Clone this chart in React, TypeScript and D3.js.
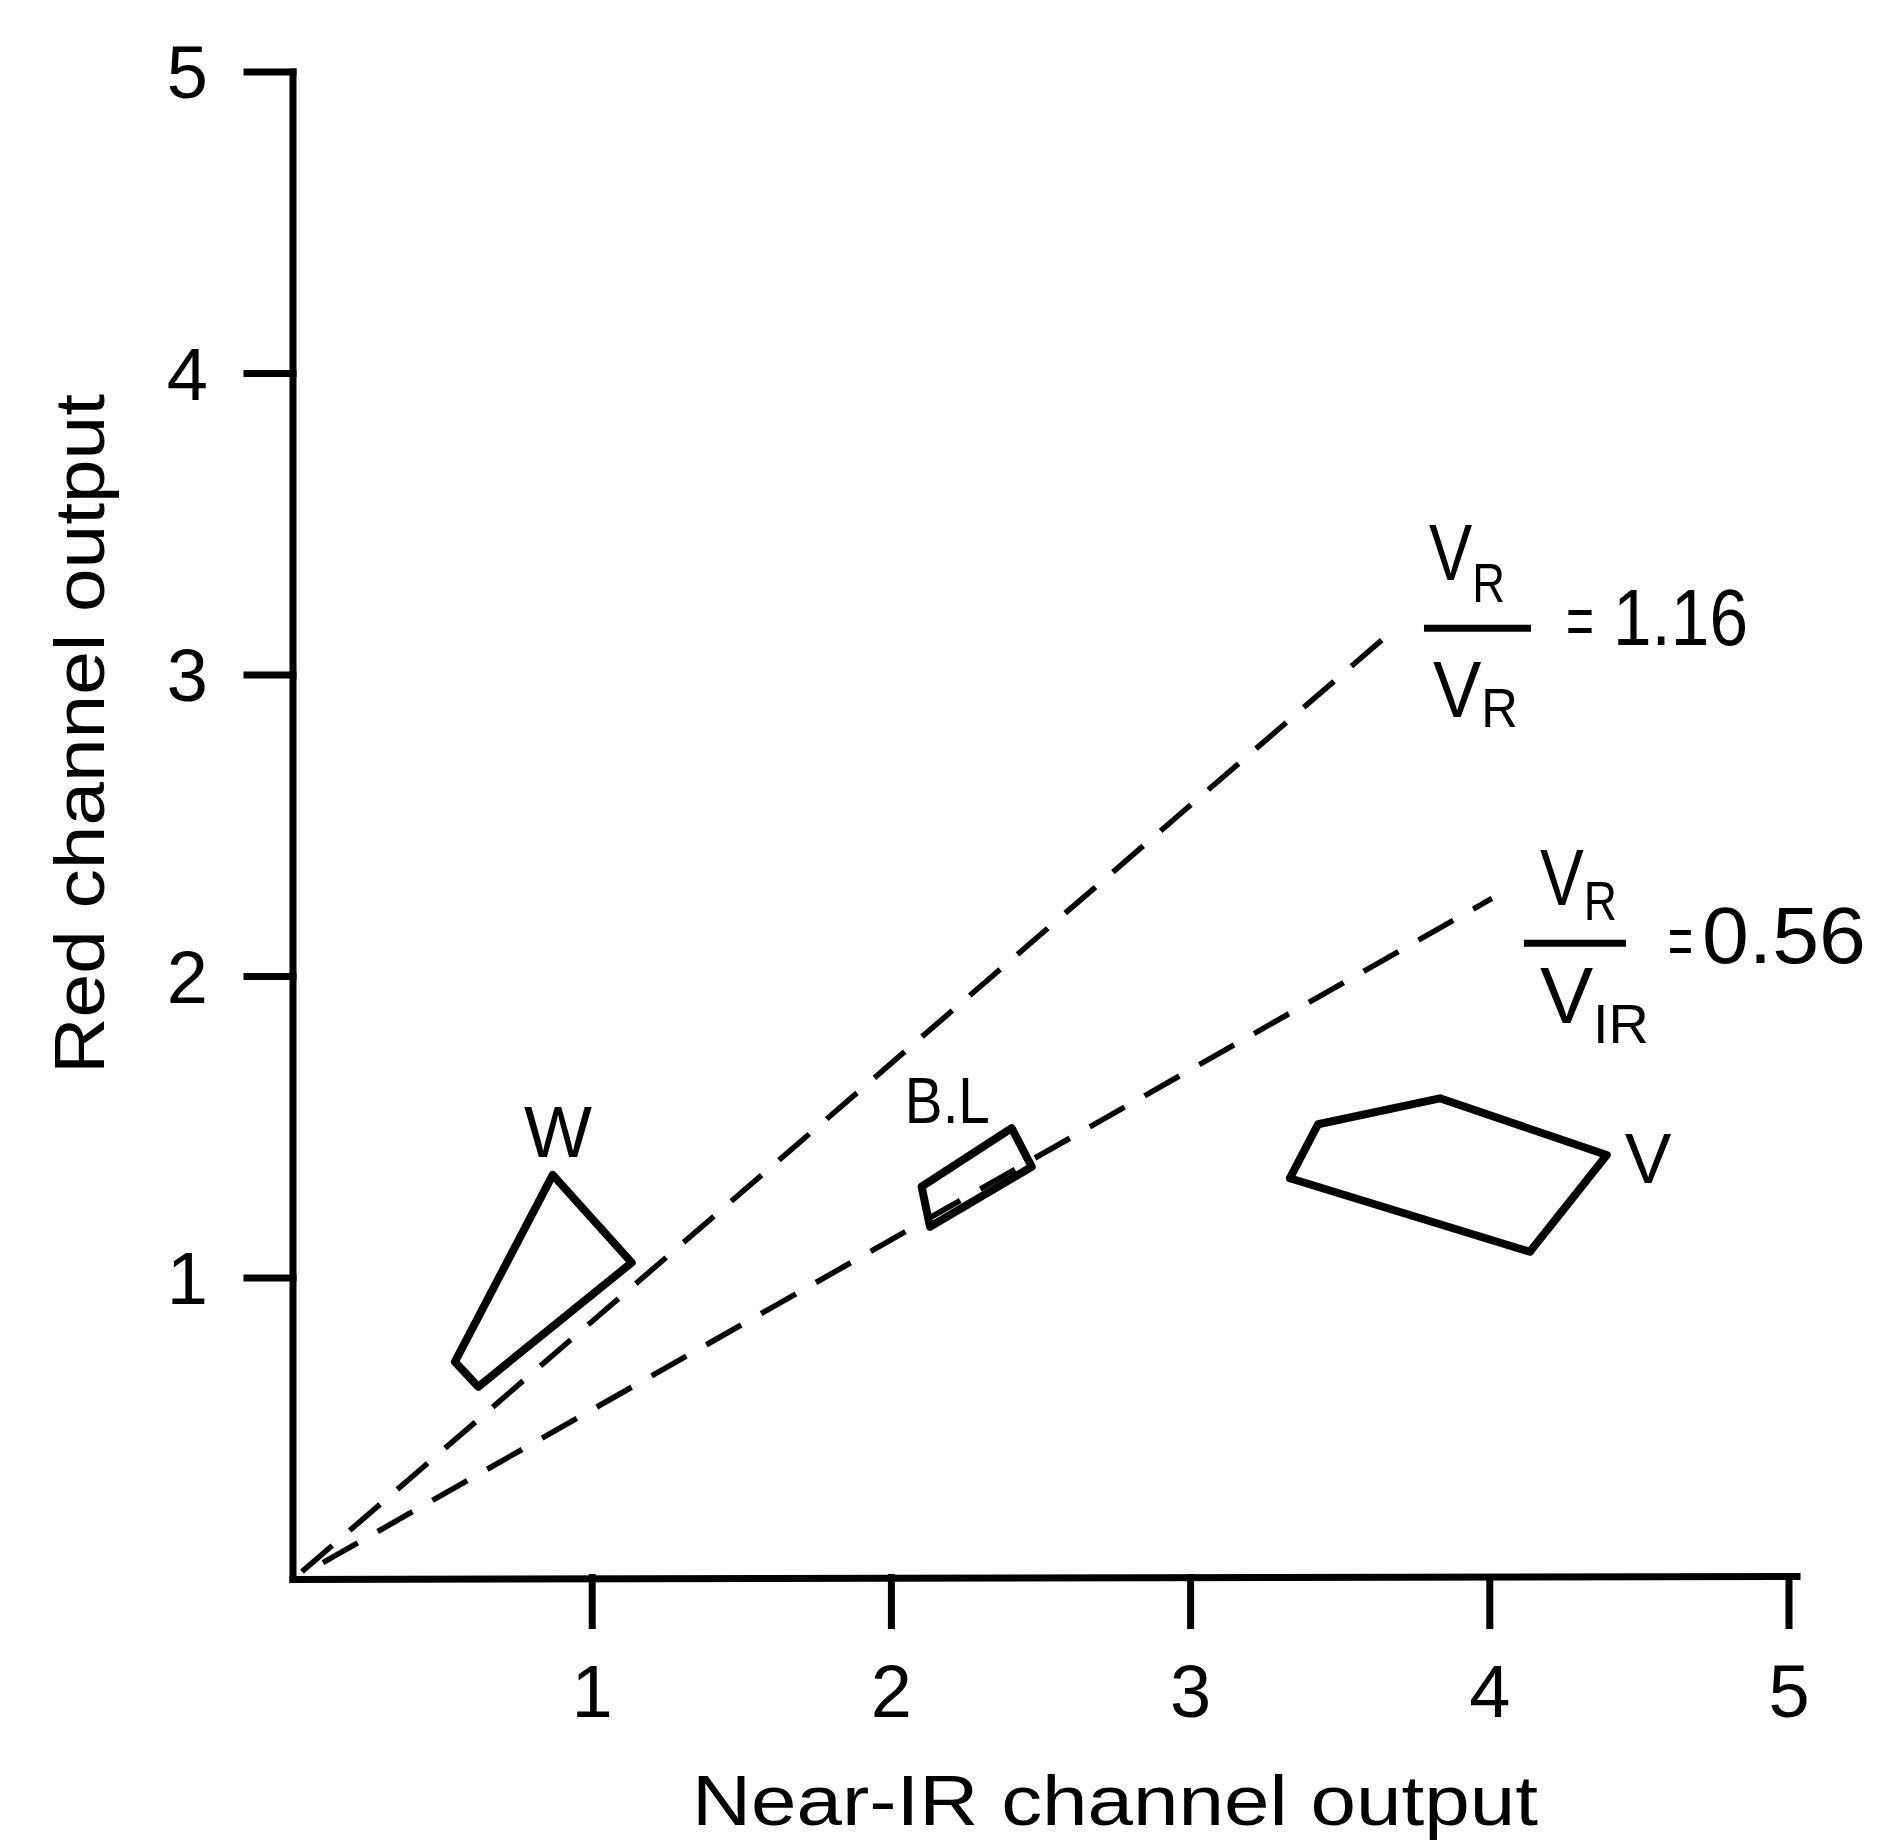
import React from 'react';
import * as d3 from 'd3';

const W = 1901;
const H = 1842;

const xTicks = [1, 2, 3, 4, 5];
const yTicks = [1, 2, 3, 4, 5];

// cluster outlines, near-IR output (x) vs red output (y)
const waterX = [0.868, 1.132, 0.619, 0.541];
const waterY = [1.342, 1.051, 0.639, 0.722];
const bareX = [2.402, 2.469, 2.129, 2.101];
const bareY = [1.497, 1.369, 1.17, 1.303];
const vegX = [3.426, 3.833, 4.391, 4.134, 3.332];
const vegY = [1.51, 1.596, 1.408, 1.087, 1.331];

const clusterLabels = ['W', 'B.L', 'V'];
const labelX = [0.886, 2.045, 4.529];
const labelY = [1.402, 1.514, 1.315];

// dashed ratio lines
const upperLineX = [0.03, 3.645];
const upperLineY = [0.026, 3.121];
const lowerLineX = [0.1, 4.007];
const lowerLineY = [0.056, 2.259];

// ratio annotations (fraction bar start, data units)
const ratioValues = ['1.16', '0.56'];
const ratioNumSub = ['R', 'R'];
const ratioDenSub = ['R', 'IR'];
const ratioX = [3.78, 4.114];
const ratioY = [3.155, 2.11];

const FONT = '"Liberation Sans", Arial, sans-serif';

const x = d3.scaleLinear().domain([0, 5]).range([293, 1789]);
const y = d3.scaleLinear().domain([0, 5]).range([1579.5, 72]);

const zip = (xs: number[], ys: number[]) => xs.map((v, i) => [v, ys[i]] as [number, number]);

const outline = d3.line<[number, number]>()
  .x(d => x(d[0]))
  .y(d => y(d[1]))
  .curve(d3.curveLinearClosed);

const straight = d3.line<[number, number]>()
  .x(d => x(d[0]))
  .y(d => y(d[1]));

const clusters = [zip(waterX, waterY), zip(bareX, bareY), zip(vegX, vegY)];

// pixel offsets of the fraction pieces, relative to the bar start
const fracLayout = [
  { num: [5, -48, 22, 76], den: [9, 89, 10, 85], bar: 107, eq: [142, 17, 28], val: [189, 17, 135] },
  { num: [16, -38, 15, 77], den: [16, 80, 20, 109], bar: 102, eq: [144, 22, 25], val: [178, 20, 164] },
];

const Ratio = ({ i }: { i: number }) => {
  const bx = x(ratioX[i]);
  const by = y(ratioY[i]);
  const L = fracLayout[i];
  return (
    <g fontFamily={FONT} fill="#000">
      <text x={bx + L.num[0]} y={by + L.num[1]} textLength={L.num[3]} lengthAdjust="spacingAndGlyphs">
        <tspan fontSize={80}>V</tspan>
        <tspan fontSize={56} dy={L.num[2]}>{ratioNumSub[i]}</tspan>
      </text>
      <line x1={bx} x2={bx + L.bar} y1={by} y2={by} stroke="#000" strokeWidth={7} />
      <text x={bx + L.den[0]} y={by + L.den[1]} textLength={L.den[3]} lengthAdjust="spacingAndGlyphs">
        <tspan fontSize={80}>V</tspan>
        <tspan fontSize={56} dy={L.den[2]}>{ratioDenSub[i]}</tspan>
      </text>
      <text x={bx + L.eq[0]} y={by + L.eq[1]} fontSize={70} textLength={L.eq[2]} lengthAdjust="spacingAndGlyphs">=</text>
      <text x={bx + L.val[0]} y={by + L.val[1]} fontSize={79} textLength={L.val[2]} lengthAdjust="spacingAndGlyphs">{ratioValues[i]}</text>
    </g>
  );
};

export default function App() {
  const x0 = x(0);
  const y0 = y(0);
  return (
    <svg width={W} height={H} viewBox={`0 0 ${W} ${H}`}
      style={{ position: 'absolute', left: 0, top: 0, display: 'block', background: '#fff' }}>
      <rect width={W} height={H} fill="#fff" />

      {/* axes */}
      <g stroke="#000" strokeWidth={7} strokeLinecap="square">
        <line x1={x0} x2={x0} y1={y0} y2={y(5)} />
        <line x1={x0} x2={x(5) + 8} y1={y0} y2={y0 - 3} />
        {yTicks.map(t => (
          <line key={'yt' + t} x1={x0 - 46} x2={x0} y1={y(t)} y2={y(t)} />
        ))}
        {xTicks.map(t => (
          <line key={'xt' + t} x1={x(t)} x2={x(t)} y1={y0 - 2} y2={y0 + 46} />
        ))}
      </g>

      <g fontFamily={FONT} fontSize={74} fill="#000">
        {yTicks.map(t => (
          <text key={'yl' + t} x={208} y={y(t) + 26} textAnchor="end">{t}</text>
        ))}
        {xTicks.map(t => (
          <text key={'xl' + t} x={x(t)} y={1717} textAnchor="middle">{t}</text>
        ))}
      </g>

      <text x={1115} y={1825} textAnchor="middle" fontFamily={FONT} fontSize={70}
        textLength={846} lengthAdjust="spacingAndGlyphs">Near-IR channel output</text>
      <text transform="translate(104,734) rotate(-90)" textAnchor="middle" fontFamily={FONT} fontSize={70}
        textLength={680} lengthAdjust="spacingAndGlyphs">Red channel output</text>

      {/* ratio lines */}
      <g fill="none" stroke="#000" strokeWidth={5.5} strokeDasharray="40,23">
        <path d={straight(zip(upperLineX, upperLineY)) || ''} />
        <path d={straight(zip(lowerLineX, lowerLineY)) || ''} />
      </g>

      {/* clusters */}
      <g fill="none" stroke="#000" strokeWidth={8} strokeLinejoin="round">
        {clusters.map((c, i) => (
          <path key={'c' + i} d={outline(c) || ''} />
        ))}
      </g>

      <g fontFamily={FONT} fill="#000">
        <text x={x(labelX[0])} y={y(labelY[0])} fontSize={72} textAnchor="middle">{clusterLabels[0]}</text>
        <text x={x(labelX[1])} y={y(labelY[1])} fontSize={64} textLength={85} lengthAdjust="spacingAndGlyphs">{clusterLabels[1]}</text>
        <text x={x(labelX[2])} y={y(labelY[2])} fontSize={70} textAnchor="middle">{clusterLabels[2]}</text>
      </g>

      <Ratio i={0} />
      <Ratio i={1} />
    </svg>
  );
}
